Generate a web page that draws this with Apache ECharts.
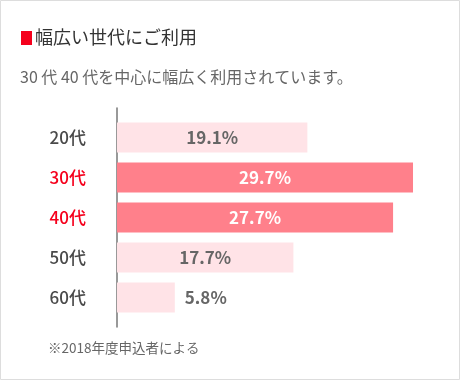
<!DOCTYPE html>
<html>
<head>
<meta charset="utf-8">
<script src="https://cdn.jsdelivr.net/npm/echarts@6/dist/echarts.min.js"></script>
<style>
html,body{margin:0;padding:0;background:#fff;}
#c{width:460px;height:380px;}
</style>
</head>
<body>
<div id="c"></div>
<script>
const titleText = '幅広い世代にご利用';
const subtitleText = '30 代 40 代を中心に幅広く利用されています。';
const noteText = '※2018年度申込者による';
const categories = ['20代', '30代', '40代', '50代', '60代'];
const values = [19.1, 29.7, 27.7, 17.7, 5.8];
const highlighted = ['30代', '40代'];

const FONT = '"Noto Sans CJK JP", "Noto Sans", sans-serif';
const RED = '#f5001c';
const DARK = '#ff808b';
const LIGHT = '#ffe3e7';

const chart = echarts.init(document.getElementById('c'), null, {renderer: 'canvas'});

const barData = categories.map((c, i) => {
  const hi = highlighted.includes(c);
  const small = values[i] < 10;
  return {
    value: values[i],
    itemStyle: {color: hi ? DARK : LIGHT},
    label: {
      position: small ? 'right' : 'inside',
      distance: 10,
      color: hi ? '#fff' : '#666'
    }
  };
});

chart.setOption({
  animation: false,
  textStyle: {fontFamily: FONT},
  title: [
    {text: titleText, left: 35, top: 28, padding: 0, textStyle: {fontFamily: FONT, fontSize: 18, fontWeight: 'normal', color: '#333'}},
    {text: subtitleText, left: 20, top: 69, padding: 0, textStyle: {fontFamily: FONT, fontSize: 16, fontWeight: 'normal', color: '#666'}},
    {text: noteText, left: 48, top: 341, padding: 0, textStyle: {fontFamily: FONT, fontSize: 13.5, fontWeight: 'normal', color: '#666'}}
  ],
  graphic: [
    {type: 'rect', shape: {x: 0.5, y: 0.5, width: 459, height: 379}, style: {fill: 'none', stroke: '#ddd', lineWidth: 1}, silent: true},
    {type: 'rect', shape: {x: 21, y: 31, width: 11, height: 14}, style: {fill: RED}, silent: true}
  ],
  grid: [
    {left: 117, top: 117.5, width: 299, height: 200},
    {left: 116.5, top: 108, width: 299, height: 219}
  ],
  xAxis: [
    {gridIndex: 0, type: 'value', min: 0, max: 30, show: false},
    {gridIndex: 1, type: 'value', min: 0, max: 30, show: false}
  ],
  yAxis: [
    {
      gridIndex: 0, type: 'category', data: categories, inverse: true,
      axisLine: {show: false}, axisTick: {show: false}, splitLine: {show: false},
      axisLabel: {
        margin: 31, fontSize: 17, fontWeight: 500, fontFamily: FONT,
        color: (v) => highlighted.includes(v) ? RED : '#4a4a4a'
      }
    },
    {
      gridIndex: 1, type: 'value', min: 0, max: 1,
      axisLine: {show: true, lineStyle: {color: '#777', width: 1.5}},
      axisTick: {show: false}, axisLabel: {show: false}, splitLine: {show: false}
    }
  ],
  series: [{
    type: 'bar',
    xAxisIndex: 0, yAxisIndex: 0,
    data: barData,
    barWidth: 30,
    label: {
      show: true,
      formatter: (p) => p.value.toFixed(1) + '%',
      fontSize: 17, fontWeight: 'bold', fontFamily: FONT
    }
  }]
});
</script>
</body>
</html>
